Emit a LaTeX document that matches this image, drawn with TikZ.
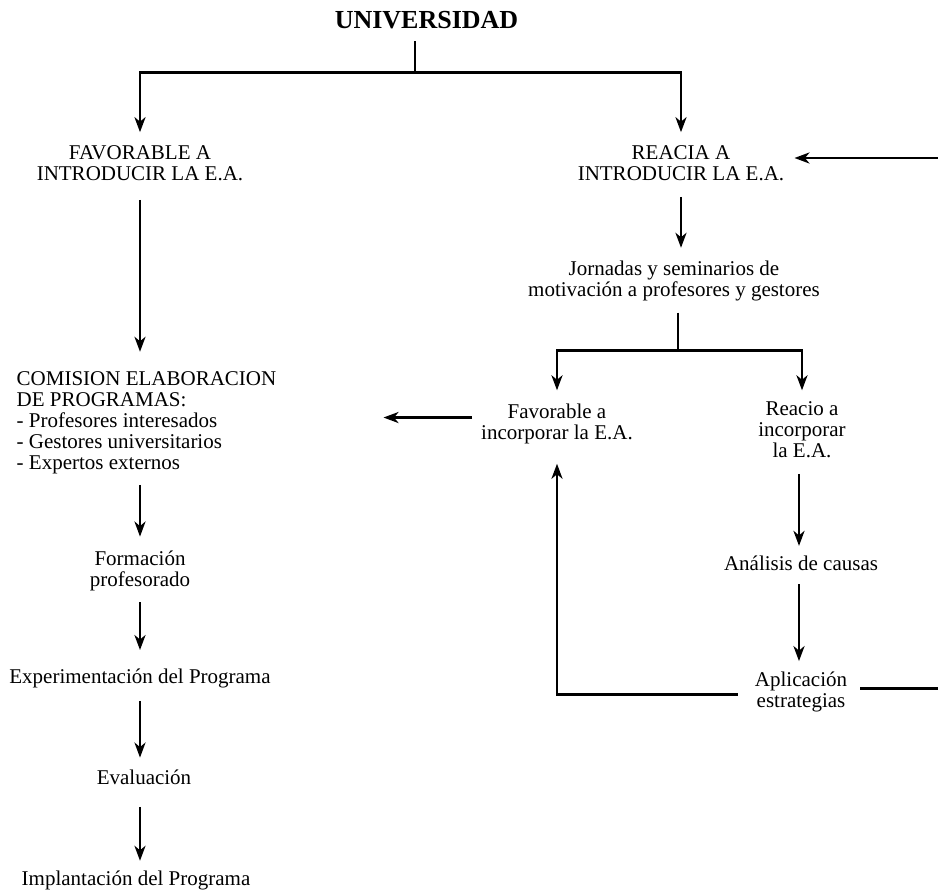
\documentclass[tikz,border=0pt]{standalone}
\usepackage{fontspec}
\setmainfont{Liberation Serif}
\usetikzlibrary{arrows.meta,positioning,calc}
\tikzset{
  stage/.style={align=center, inner sep=0pt, font=\fontsize{21}{21}\selectfont},
  flow/.style={-{Stealth[length=15pt, width=11pt, inset=4.5pt]}, line width=2.6pt},
  link/.style={line width=2.6pt}
}

\begin{document}
\begin{tikzpicture}[x=1pt, y=1pt]
  \useasboundingbox (0,0) rectangle (938,-891);
  \node[stage, font=\bfseries\fontsize{26}{26}\selectfont] (uni) at (426.5,-20.2) {UNIVERSIDAD};
  % left branch
  \node[stage, below=116pt of uni, xshift=-286.5pt] (fav) {FAVORABLE A\\INTRODUCIR LA E.A.};
  \node[stage, align=left, below=191pt of fav, xshift=6.5pt] (com) {COMISION ELABORACION\\DE PROGRAMAS:\\- Profesores interesados\\- Gestores universitarios\\- Expertos externos};
  \node[stage, below=76pt of com, xshift=-6.5pt] (form) {Formación\\profesorado};
  \node[stage, below=78pt of form] (exp) {Experimentación del Programa};
  \node[stage, below=81pt of exp, xshift=4pt] (eva) {Evaluación};
  \node[stage, below=86pt of eva, xshift=-8pt] (imp) {Implantación del Programa};
  % right branch
  \node[stage, below=116pt of uni, xshift=254.5pt] (rea) {REACIA A\\INTRODUCIR LA E.A.};
  \node[stage, below=80pt of rea, xshift=-7pt] (jor) {Jornadas y seminarios de\\motivación a profesores y gestores};
  \node[stage, below=102pt of jor, xshift=-117pt] (favinc) {Favorable a\\incorporar la E.A.};
  \node[stage, below=100pt of jor, xshift=128pt] (reainc) {Reacio a\\incorporar\\la E.A.};
  \node[stage, below=98pt of reainc, xshift=-1pt] (ana) {Análisis de causas};
  \node[stage, below=101pt of ana] (apl) {Aplicación\\estrategias};
  % split points and loose ends
  \coordinate[below=43pt of uni.south, xshift=-11.5pt] (split1);
  \coordinate[below=49.4pt of jor.south, xshift=4pt] (split2);
  \coordinate (loopin) at (938,-158);
  \coordinate (loopout) at (938,-687);
  % connectors
  \draw[link, shorten <=12pt] (uni.south -| split1) -- (split1);
  \draw[flow, shorten >=13pt] (split1) -| (fav);
  \draw[flow, shorten >=13pt] (split1) -| (rea);
  \draw[flow, shorten <=19pt, shorten >=20pt] (fav) -- (fav |- com.north);
  \draw[flow, shorten <=10.4pt, shorten >=14pt] (form |- com.south) -- (form);
  \draw[flow, shorten <=11.4pt, shorten >=19pt] (form) -- (exp);
  \draw[flow, shorten <=12.4pt, shorten >=12pt] (exp) -- (exp |- eva.north);
  \draw[flow, shorten <=22pt, shorten >=10pt] (exp |- eva.south) -- (exp |- imp.north);
  \draw[flow, shorten >=10pt] (loopin) -- (loopin -| rea.east);
  \draw[flow, shorten <=16pt, shorten >=13pt] (rea) -- (rea |- jor.north);
  \draw[link, shorten <=11.4pt] (jor.south -| split2) -- (split2);
  \draw[flow, shorten >=13pt] (split2) -| (favinc);
  \draw[flow, shorten >=11pt] (split2) -| (reainc);
  \draw[flow, shorten <=9pt, shorten >=107pt] ([yshift=6pt]favinc.west) -- ([yshift=6pt]favinc.west -| com.east);
  \draw[flow, shorten <=16pt, shorten >=10pt] ([xshift=-3pt]reainc.south) -- ([xshift=-3pt]reainc.south |- ana.north);
  \draw[flow, shorten <=13pt, shorten >=11pt] ([xshift=-2pt]ana.south) -- ([xshift=-2pt]ana.south |- apl.north);
  \draw[flow, shorten <=17pt, shorten >=20pt] ([yshift=-2pt]apl.west) -| (favinc.south);
  \draw[link, shorten <=13pt] ([yshift=4pt]apl.east) -- ([yshift=4pt]apl.east -| loopout);
\end{tikzpicture}
\end{document}
